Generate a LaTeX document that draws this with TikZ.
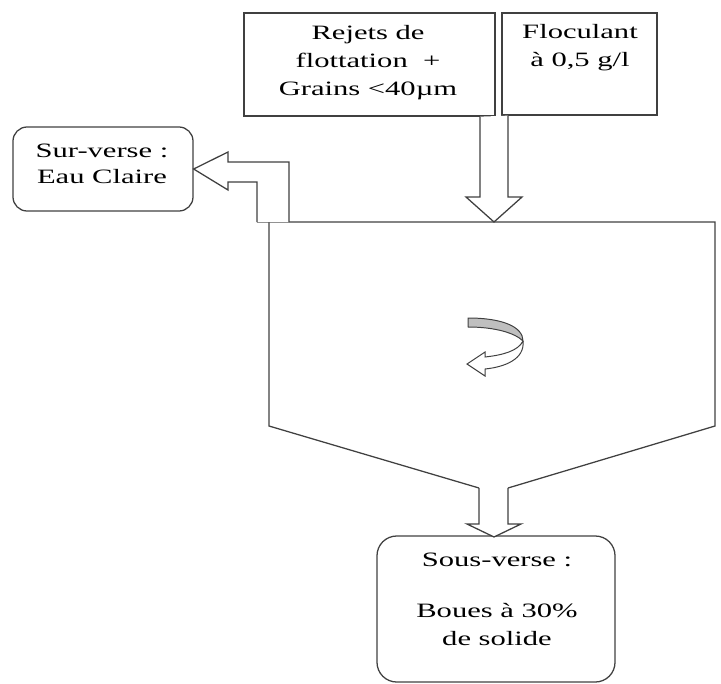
\documentclass[tikz,border=0pt]{standalone}
\usepackage{fontspec}
\setmainfont{Liberation Serif}
\newfontfamily\wordfont{Liberation Serif}[FakeStretch=1.5]
\usepackage{tikz}

\newcommand{\px}{0.025cm}
\tikzset{
  line/.style={draw=black!75, line width=0.9pt},
  box/.style={line, inner sep=0pt},
  roundbox/.style={box, rounded corners=10pt},
  txt/.style={inner sep=0pt, align=center, anchor=north,
    font=\wordfont\fontsize{14.5}{20}\selectfont},
  flow/.style={line, fill=white, line join=miter},
}

\begin{document}
\begin{tikzpicture}[x=\px, y=-\px]
\useasboundingbox (0,0) rectangle (721,683);

% boites
\node[box, minimum width=251*\px, minimum height=103*\px] (rejets) at (369.5,64.5) {};
\node[box, minimum width=155*\px, minimum height=102*\px] (floc) at (579.5,64) {};
\node[roundbox, minimum width=180*\px, minimum height=84*\px] (surverse) at (103,169) {};
\node[roundbox, rounded corners=14pt, minimum width=238*\px, minimum height=146*\px] (sousverse) at (496,609) {};

\node[txt] (rejetstxt) at (368,25) {Rejets de\\flottation \ +\\Grains <40µm};
\node[txt] (floctxt) at (580,24) {Floculant\\à 0,5 g/l};
\node[txt] (surtxt) at (102,144) {Sur-verse :\\[-2pt]Eau Claire};
\node[txt] (soustxt) at (497,553) {Sous-verse :\\[16pt]Boues à 30\%\\de solide};

% decanteur
\draw[line] (257,222) -- (715,222) -- (715,426) -- (508,488);
\draw[line] (269,222) -- (269,426) -- (479,488);

% fleches
\draw[flow] (480,0 |- rejets.south) -- (480,197) -- (466,197) -- (494,222)
  -- (522,197) -- (508,197) -- (508,0 |- floc.south);
\draw[flow] (257,222) -- (257,182) -- (228,182) -- (228,190) -- (surverse.east)
  -- (228,152) -- (228,162) -- (289,162) -- (289,222);
\draw[flow] (479,488) -- (479,524) -- (467,524) -- (494,537)
  -- (521,524) -- (508,524) -- (508,488);

% rotation
\filldraw[line, fill=black!25, line width=0.7pt] (468,318) .. controls (503,318) and (523,327) .. (523,341)
  .. controls (515,333) and (495,327) .. (468,327) -- cycle;
\filldraw[line, fill=white, line width=0.7pt] (523,341) .. controls (525,359) and (505,367) .. (485,369)
  -- (485,376) -- (467,364) -- (485,352) -- (485,357)
  .. controls (503,355) and (518,351) .. (523,341);
\end{tikzpicture}
\end{document}
